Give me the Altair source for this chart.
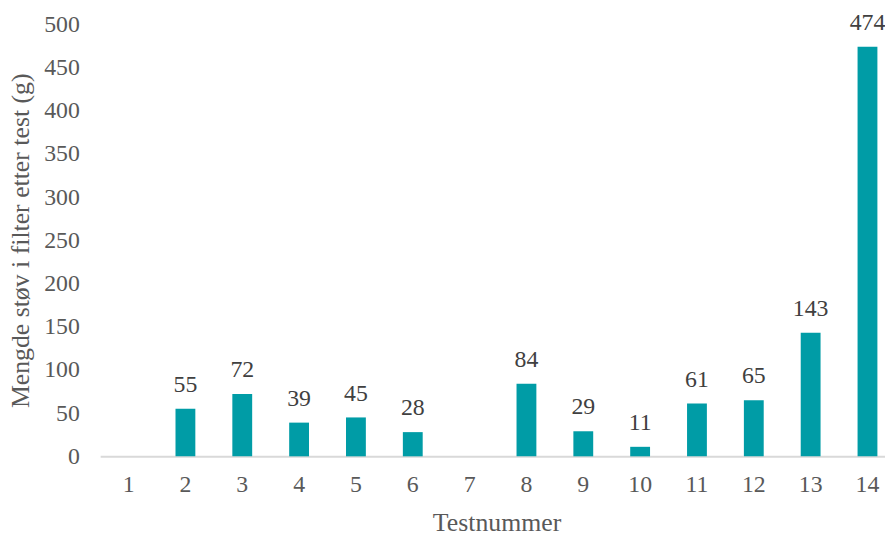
import altair as alt
import pandas as pd

tests = [str(i) for i in range(1, 15)]
values = [None, 55, 72, 39, 45, 28, None, 84, 29, 11, 61, 65, 143, 474]

df = pd.DataFrame({"test": tests, "value": values})

FONT = "'Liberation Serif', 'Times New Roman', 'DejaVu Serif', serif"
x_enc = alt.X(
    "test:N",
    sort=tests,
    scale=alt.Scale(range=[0, 803], paddingInner=0.651, paddingOuter=0.3255),
    axis=alt.Axis(
        title="Testnummer",
        labelAngle=0,
        labelFont=FONT,
        labelFontSize=24,
        labelColor="#595959",
        labelBaseline="alphabetic",
        labelPadding=36,
        ticks=False,
        tickSize=0,
        domainColor="#D9D9D9",
        domainWidth=2,
        grid=False,
        titleFont=FONT,
        titleFontSize=26,
        titleFontWeight="normal",
        titleColor="#595959",
        titleX=400,
        titleY=75,
        titleAlign="center",
        titleBaseline="alphabetic",
    ),
)
y_enc = alt.Y(
    "value:Q",
    scale=alt.Scale(domain=[0, 500], nice=False),
    axis=alt.Axis(
        title="Mengde støv i filter etter test (g)",
        values=list(range(0, 501, 50)),
        labelFont=FONT,
        labelFontSize=24,
        labelColor="#595959",
        labelPadding=21,
        ticks=False,
        tickSize=0,
        domain=False,
        grid=False,
        titleFont=FONT,
        titleFontSize=26,
        titleFontWeight="normal",
        titleColor="#595959",
        titleX=-72,
        titleY=218,
        titleAngle=270,
        titleAlign="center",
        titleBaseline="alphabetic",
    ),
)

bars = alt.Chart(df).mark_bar(color="#009CA6").encode(x=x_enc, y=y_enc)
labels = (
    alt.Chart(df)
    .transform_filter("datum.value != null")
    .mark_text(font=FONT, fontSize=24, color="#404040", baseline="alphabetic", dy=-17)
    .encode(x=alt.X("test:N", sort=tests), y="value:Q", text="value:Q")
)

chart = (
    alt.layer(bars, labels)
    .properties(
        width=792,
        height=436,
        autosize=alt.AutoSizeParams(type="none"),
        padding={"left": 93, "top": 14, "right": 0, "bottom": 79},
    )
    .configure(background="white", font=FONT)
    .configure_axis(labelFont=FONT, titleFont=FONT)
    .configure_text(font=FONT)
    .configure_view(stroke=None)
)

chart.save("out.html", embed_options={"renderer": "svg", "actions": False})
